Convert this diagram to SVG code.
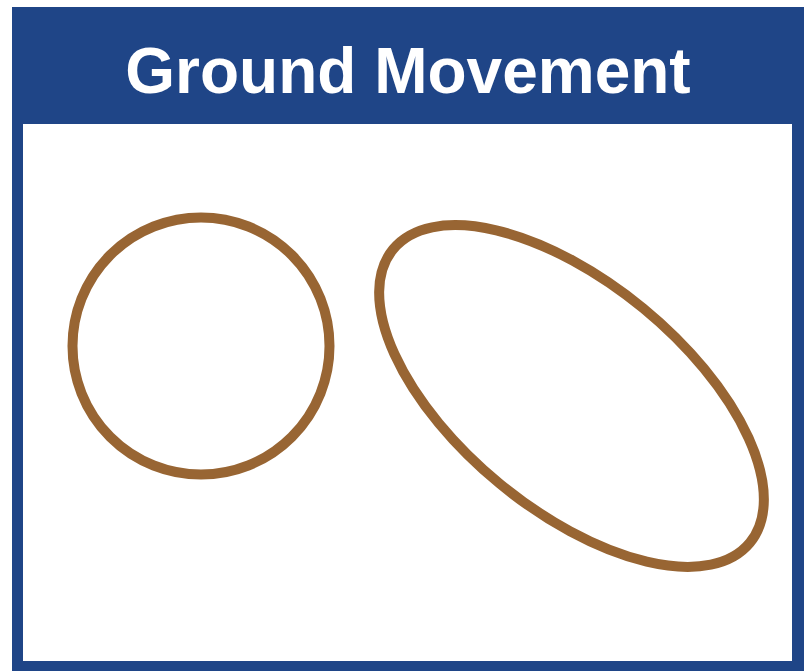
<svg xmlns="http://www.w3.org/2000/svg" width="808" height="671" viewBox="0 0 808 671">
<style>
.ring{fill:none;stroke:#986533;stroke-width:10}
.title{font-family:"Liberation Sans",Arial,sans-serif;font-weight:bold;font-size:64px;fill:#ffffff}
</style>
<rect x="0" y="0" width="808" height="671" fill="#ffffff"/>
<g id="frame">
<rect x="12" y="7" width="792" height="664" fill="#1f4587"/>
<rect x="23" y="124" width="769" height="537" fill="#ffffff"/>
<text class="title" x="408" y="93" text-anchor="middle">Ground Movement</text>
</g>
<g id="circle">
<circle class="ring" cx="201" cy="346" r="128.5"/>
</g>
<g id="ellipse">
<ellipse class="ring" cx="571.5" cy="396" rx="231" ry="113.3" transform="rotate(39.45 571.5 396)"/>
</g>
<g id="connectors"></g>
</svg>
